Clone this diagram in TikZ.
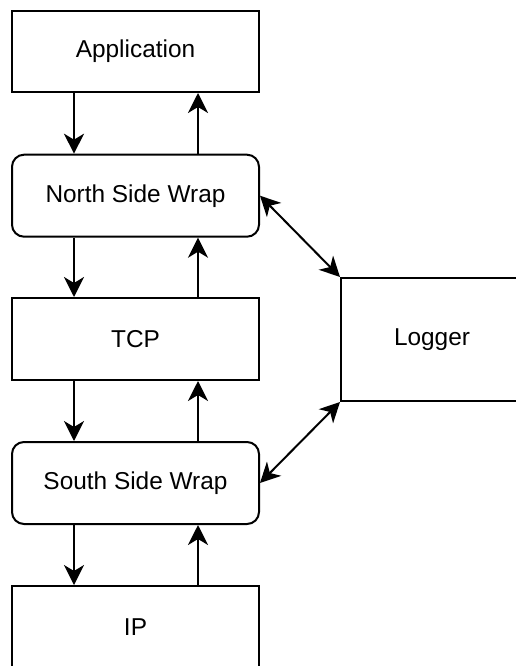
\documentclass[tikz,border=0pt]{standalone}
\usepackage{fontspec}
\setmainfont{Liberation Sans}
\usetikzlibrary{arrows.meta}
\begin{document}
\begin{tikzpicture}[x=1pt,y=-1pt,
  layer/.style={draw=black, line width=2pt, fill=white, inner sep=0pt,
    minimum width=247pt, minimum height=82pt, font=\fontsize{24.4}{28}\selectfont},
  wrap/.style={layer, rounded corners=12pt},
  flow/.style={line width=2pt, -{Stealth[length=20pt,width=20pt,inset=6pt]}},
  both/.style={line width=2pt, {Stealth[length=20pt,width=20pt,inset=6pt]}-{Stealth[length=20pt,width=20pt,inset=6pt]}}]
\useasboundingbox[fill=white] (0,0) rectangle (515,666);

% protocol stack
\node[layer, minimum height=81pt] (app) at (135.5,51.5) {\raisebox{-2pt}{Application}};
\node[wrap] (nsw) at (135.5,195.7) {\raisebox{-2pt}{North Side Wrap}};
\node[layer] (tcp) at (135.5,339) {\raisebox{-2pt}{TCP}};
\node[wrap] (ssw) at (135.5,483) {\raisebox{-2pt}{South Side Wrap}};
\node[layer] (ip) at (135.5,627) {\raisebox{-2pt}{IP}};

% logger beside the stack
\node[layer, minimum width=182pt, minimum height=123pt] (log) at (432,339.5) {\raisebox{-2pt}{Logger}};

% downward and upward traffic between layers
\foreach \a/\b in {app/nsw, nsw/tcp, tcp/ssw, ssw/ip}{
  \draw[flow] ([xshift=-61.5pt]\a.south) -- ([xshift=-61.5pt]\b.north);
  \draw[flow] ([xshift=62.5pt]\b.north) -- ([xshift=62.5pt]\a.south);
}

% wraps talk to the logger
\draw[both] (nsw.east) -- (log.north west);
\draw[both] (ssw.east) -- (log.south west);
\end{tikzpicture}
\end{document}
